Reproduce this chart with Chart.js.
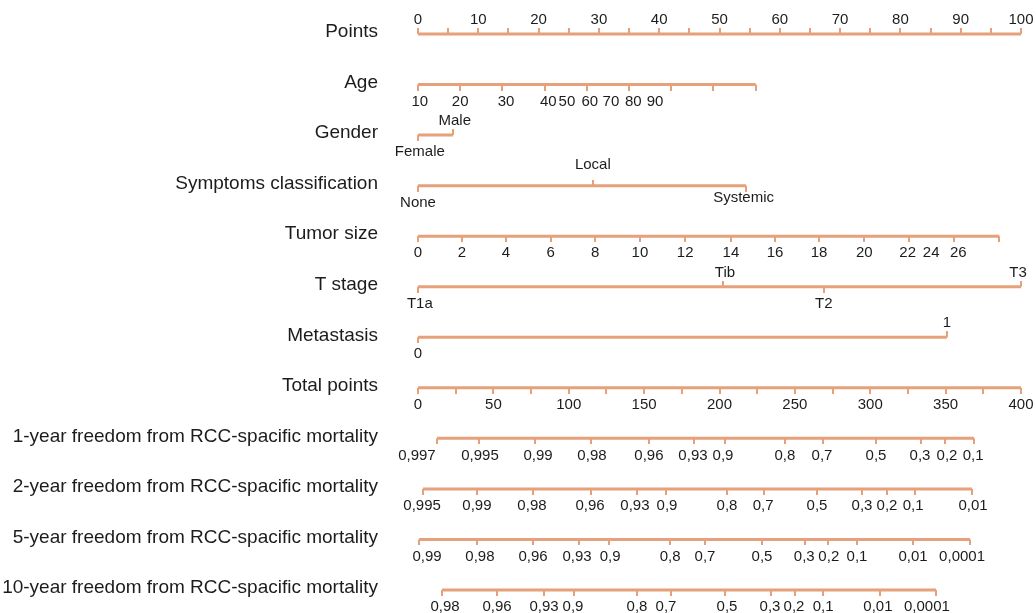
<!DOCTYPE html>
<html>
<head>
<meta charset="utf-8">
<script src="https://cdn.jsdelivr.net/npm/chart.js@4.4.1/dist/chart.umd.min.js"></script>
<style>
  html, body { margin: 0; padding: 0; background: #ffffff; }
  #wrap { width: 1036px; height: 613px; }
</style>
</head>
<body>
<div id="wrap"><canvas id="nomo" width="1036" height="613"></canvas></div>
<script>
// ---- Nomogram rows (top to bottom) ----
const rowNames = [
  'Points', 'Age', 'Gender', 'Symptoms classification', 'Tumor size', 'T stage',
  'Metastasis', 'Total points',
  '1-year freedom from RCC-spacific mortality',
  '2-year freedom from RCC-spacific mortality',
  '5-year freedom from RCC-spacific mortality',
  '10-year freedom from RCC-spacific mortality'
];

// Points scale (0-100)
const pointsTicks = [0, 5, 10, 15, 20, 25, 30, 35, 40, 45, 50, 55, 60, 65, 70, 75, 80, 85, 90, 95, 100];
const pointsLabels = ['0', '10', '20', '30', '40', '50', '60', '70', '80', '90', '100'];
const pointsLabelPos = [0, 10, 20, 30, 40, 50, 60, 70, 80, 90, 100];

// Age
const ageLabels = ['10', '20', '30', '40', '50', '60', '70', '80', '90'];
const ageTickPts = [0, 7, 14, 21, 28, 35, 42, 49, 56];
const ageLabelPts = [0.3, 7, 14.6, 21.6, 24.7, 28.5, 32, 35.7, 39.3];

// Gender
const genderLabels = ['Female', 'Male'];
const genderPts = [0, 5.8];
const genderLabelPts = [0.3, 6.1];

// Symptoms classification
const symptomLabels = ['None', 'Local', 'Systemic'];
const symptomPts = [0, 29, 54.4];
const symptomLabelPts = [0, 29, 54];

// Tumor size
const tumorLabels = ['0', '2', '4', '6', '8', '10', '12', '14', '16', '18', '20', '22', '24', '26'];
const tumorTickPts = [0, 7.3, 14.6, 22, 29.4, 36.8, 44.3, 51.9, 59.2, 66.5, 74, 81.4, 88.9, 96.4];
const tumorLabelPts = [0, 7.3, 14.6, 22, 29.4, 36.8, 44.3, 51.9, 59.2, 66.5, 74, 81.2, 85.1, 89.6];

// T stage
const tStageLabels = ['T1a', 'Tib', 'T2', 'T3'];
const tStagePts = [0, 50.6, 67.3, 100];
const tStageLabelPts = [0.3, 50.9, 67.3, 99.5];

// Metastasis
const metLabels = ['0', '1'];
const metPts = [0, 87.7];

// Total points (0-400)
const totalTicks = [0, 25, 50, 75, 100, 125, 150, 175, 200, 225, 250, 275, 300, 325, 350, 375, 400];
const totalLabels = ['0', '50', '100', '150', '200', '250', '300', '350', '400'];
const totalLabelPos = [0, 50, 100, 150, 200, 250, 300, 350, 400];

// 1-year freedom from RCC-specific mortality (positions on total points)
const y1Labels = ['0,997', '0,995', '0,99', '0,98', '0,96', '0,93', '0,9', '0,8', '0,7', '0,5', '0,3', '0,2', '0,1'];
const y1TickPts = [12.6, 40.5, 77.6, 114.8, 153.3, 183.1, 203.6, 243.4, 268.7, 303.8, 333.7, 349.6, 368.8];
const y1LabelPts = [-0.7, 41.1, 79.6, 115.4, 153.2, 182.4, 202.3, 243.4, 268, 303.8, 333, 350.9, 368.2];

// 2-year
const y2Labels = ['0,995', '0,99', '0,98', '0,96', '0,93', '0,9', '0,8', '0,7', '0,5', '0,3', '0,2', '0,1', '0,01'];
const y2TickPts = [3.3, 39.1, 76.3, 114.8, 145.3, 164.5, 205, 229.5, 264.7, 294.5, 311.1, 329.7, 367.5];
const y2LabelPts = [2.7, 39.1, 75.6, 114.1, 143.9, 165.2, 205, 228.9, 264.7, 294.5, 311.1, 328.4, 368.2];

// 5-year
const y5Labels = ['0,99', '0,98', '0,96', '0,93', '0,9', '0,8', '0,7', '0,5', '0,3', '0,2', '0,1', '0,01', '0,0001'];
const y5TickPts = [0.7, 39.1, 76.3, 106.8, 126.7, 167.2, 190.4, 228.2, 256.7, 272, 291.2, 328.4, 366.2];
const y5LabelPts = [6, 41.1, 76.3, 105.5, 127.4, 167.2, 190.4, 228.2, 256.2, 272.5, 291.2, 328.4, 360.9];

// 10-year
const y10Labels = ['0,98', '0,96', '0,93', '0,9', '0,8', '0,7', '0,5', '0,3', '0,2', '0,1', '0,01', '0,0001'];
const y10TickPts = [15.9, 52.4, 83.6, 103.5, 145.3, 167.8, 203.6, 234.2, 250.1, 268.7, 306.5, 343.6];
const y10LabelPts = [17.9, 52.4, 83.6, 102.8, 145.3, 164.5, 205, 233.5, 249.4, 268.7, 305.1, 337.6];

// ---- styling ----
const lineColor = '#e6a07a';
const textColor = '#1c1c1c';
const fontFamily = '"Liberation Sans", Arial, Helvetica, sans-serif';

const fill = (n, s) => Array(n).fill(s);
const ends = arr => [arr[0], arr[arr.length - 1]];

// Row table: which x axis, line extent, tick marks, labels and which side they sit on
const rowSpecs = [
  { axis: 'x',  line: ends(pointsTicks), ticks: pointsTicks, tickSide: fill(pointsTicks.length, 'a'),
    labels: pointsLabels, labelPos: pointsLabelPos, labelSide: fill(pointsLabels.length, 'a') },
  { axis: 'x',  line: ends(ageTickPts), ticks: ageTickPts, tickSide: fill(ageTickPts.length, 'b'),
    labels: ageLabels, labelPos: ageLabelPts, labelSide: fill(ageLabels.length, 'b') },
  { axis: 'x',  line: ends(genderPts), ticks: genderPts, tickSide: ['b', 'a'],
    labels: genderLabels, labelPos: genderLabelPts, labelSide: ['b', 'a'] },
  { axis: 'x',  line: ends(symptomPts), ticks: symptomPts, tickSide: ['b', 'a', 'b'],
    labels: symptomLabels, labelPos: symptomLabelPts, labelSide: ['b', 'A', 'B'] },
  { axis: 'x',  line: ends(tumorTickPts), ticks: tumorTickPts, tickSide: fill(tumorTickPts.length, 'b'),
    labels: tumorLabels, labelPos: tumorLabelPts, labelSide: fill(tumorLabels.length, 'b') },
  { axis: 'x',  line: ends(tStagePts), ticks: tStagePts, tickSide: ['b', 'a', 'b', 'a'],
    labels: tStageLabels, labelPos: tStageLabelPts, labelSide: ['b', 'a', 'b', 'a'] },
  { axis: 'x',  line: ends(metPts), ticks: metPts, tickSide: ['b', 'a'],
    labels: metLabels, labelPos: metPts, labelSide: ['b', 'a'] },
  { axis: 'x2', line: ends(totalTicks), ticks: totalTicks, tickSide: fill(totalTicks.length, 'b'),
    labels: totalLabels, labelPos: totalLabelPos, labelSide: fill(totalLabels.length, 'b') },
  { axis: 'x2', line: ends(y1TickPts), ticks: y1TickPts, tickSide: fill(y1TickPts.length, 'b'),
    labels: y1Labels, labelPos: y1LabelPts, labelSide: fill(y1Labels.length, 'b') },
  { axis: 'x2', line: ends(y2TickPts), ticks: y2TickPts, tickSide: fill(y2TickPts.length, 'b'),
    labels: y2Labels, labelPos: y2LabelPts, labelSide: fill(y2Labels.length, 'b') },
  { axis: 'x2', line: ends(y5TickPts), ticks: y5TickPts, tickSide: fill(y5TickPts.length, 'b'),
    labels: y5Labels, labelPos: y5LabelPts, labelSide: fill(y5Labels.length, 'b') },
  { axis: 'x2', line: ends(y10TickPts), ticks: y10TickPts, tickSide: fill(y10TickPts.length, 'b'),
    labels: y10Labels, labelPos: y10LabelPts, labelSide: fill(y10Labels.length, 'b') }
];

// Half-length tick marks used as point styles (point sits on the axis line)
function makeTick(up) {
  const h = 6, c = document.createElement('canvas');
  c.width = 2; c.height = h * 2;
  const g = c.getContext('2d');
  g.fillStyle = lineColor;
  if (up) g.fillRect(0, 0, 2, h); else g.fillRect(0, h, 2, h);
  return c;
}
const tickUp = makeTick(true);
const tickDown = makeTick(false);

const datasets = [];
rowSpecs.forEach((r, i) => {
  const name = rowNames[i];
  datasets.push({
    data: r.line.map(v => ({ x: v, y: name })),
    xAxisID: r.axis, showLine: true, borderColor: lineColor, borderWidth: 3,
    borderCapStyle: 'butt', pointRadius: 0, clip: false
  });
  const up = [], down = [];
  r.ticks.forEach((v, j) => (r.tickSide[j] === 'a' ? up : down).push({ x: v, y: name }));
  [[up, tickUp], [down, tickDown]].forEach(([pts, style]) => {
    if (!pts.length) return;
    datasets.push({ data: pts, xAxisID: r.axis, showLine: false, pointStyle: style,
      pointRadius: 4, clip: false });
  });
});

// Value labels placed along each row through the x scales
const valueLabels = {
  id: 'valueLabels',
  afterDatasetsDraw(chart) {
    const { ctx } = chart;
    const yScale = chart.scales.y;
    const offsets = { a: -14, A: -21, b: 17, B: 12 };
    ctx.save();
    ctx.font = '15px ' + fontFamily;
    ctx.fillStyle = textColor;
    ctx.textAlign = 'center';
    ctx.textBaseline = 'middle';
    rowSpecs.forEach((r, i) => {
      const xs = chart.scales[r.axis];
      const yy = yScale.getPixelForValue(i);
      r.labels.forEach((t, j) => {
        ctx.fillText(t, xs.getPixelForValue(r.labelPos[j]), yy + offsets[r.labelSide[j]]);
      });
    });
    ctx.restore();
  }
};

new Chart(document.getElementById('nomo'), {
  type: 'scatter',
  data: { datasets },
  options: {
    responsive: false,
    animation: false,
    devicePixelRatio: 1,
    events: [],
    layout: { padding: { left: 0, right: 15, top: 34, bottom: 23 } },
    plugins: { legend: { display: false }, tooltip: { enabled: false } },
    scales: {
      x:  { type: 'linear', min: 0, max: 100, display: false },
      x2: { type: 'linear', axis: 'x', min: 0, max: 400, display: false },
      y: {
        type: 'category', labels: rowNames, offset: false, position: 'left',
        grid: { display: false, drawTicks: false }, border: { display: false },
        ticks: { autoSkip: false, padding: 40, labelOffset: -2, color: textColor,
          font: { family: fontFamily, size: 19 } },
        afterFit(scale) {
          scale.width = 418;
          scale.paddingTop = 0;
          scale.paddingBottom = 0;
        }
      }
    }
  },
  plugins: [valueLabels]
});
</script>
</body>
</html>
